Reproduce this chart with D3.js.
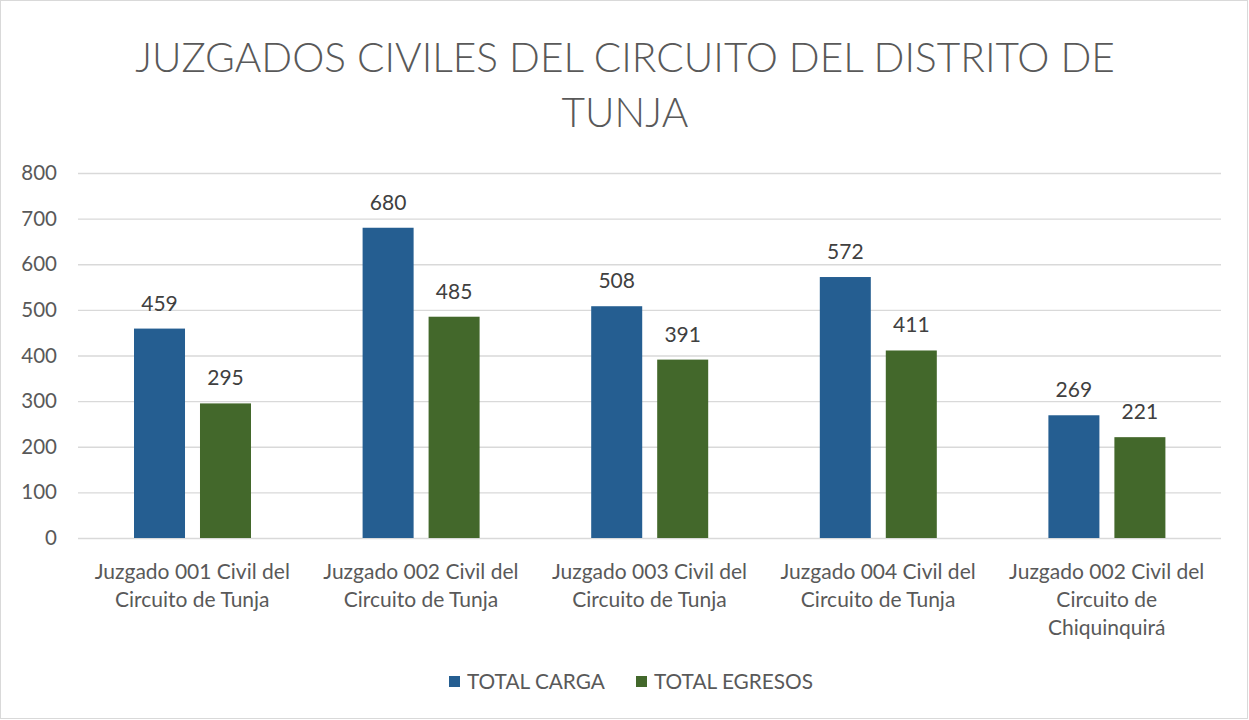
<!DOCTYPE html>
<html><head><meta charset="utf-8">
<script src="https://cdn.jsdelivr.net/npm/d3@7"></script>
<style>body{margin:0;background:#fff}svg{display:block}text{font-family:Lato,"Open Sans",sans-serif}</style>
</head><body>
<svg id="c" width="1249" height="720"></svg>
<script>
const categories = [
  ["Juzgado 001 Civil del","Circuito de Tunja"],
  ["Juzgado 002 Civil del","Circuito de Tunja"],
  ["Juzgado 003 Civil del","Circuito de Tunja"],
  ["Juzgado 004 Civil del","Circuito de Tunja"],
  ["Juzgado 002 Civil del","Circuito de","Chiquinquirá"]
];
const seriesNames = ["TOTAL CARGA","TOTAL EGRESOS"];
const totalCarga = [459,680,508,572,269];
const totalEgresos = [295,485,391,411,221];
const yTicks = [0,100,200,300,400,500,600,700,800];
const titleLines = ["JUZGADOS CIVILES DEL CIRCUITO DEL DISTRITO DE","TUNJA"];
const colors = ["#255E91","#43682B"];

const svg = d3.select("#c");
svg.append("rect").attr("x",0.5).attr("y",0.5).attr("width",1247).attr("height",718)
  .attr("fill","#fff").attr("stroke","#D9D9D9");

const L=78,R=1221,T=173,B=538;
const y = d3.scaleLinear().domain([0,800]).range([B,T]);
const idx = categories.map((d,i)=>i);
const x0 = d3.scaleBand().domain(idx).range([L,R]).padding(0);
const x1 = d3.scaleBand().domain([0,1]).range([56,173]).paddingInner(0.227).paddingOuter(0);

// title
const title = svg.append("g");
titleLines.forEach((t,i)=>{
  title.append("text").attr("x",625).attr("y",72+i*55).attr("text-anchor","middle")
    .attr("fill","#595959").attr("font-size",44).style("font-weight",300).text(t);
});
const t1 = title.select("text").node();
const w = t1.getComputedTextLength();
title.selectAll("text").attr("font-size",44*980/w);

// grid
const axisY = d3.axisLeft(y).tickValues(yTicks).tickSize(-(R-L)).tickPadding(21);
const gy = svg.append("g").attr("transform",`translate(${L},0)`).call(axisY);
gy.select(".domain").remove();
gy.selectAll(".tick line").attr("stroke","#D9D9D9").attr("stroke-width",1.3);
gy.selectAll(".tick text").attr("fill","#595959").attr("font-size",20.5).style("font-family","Lato,'Open Sans',sans-serif");

// bars
const data = idx.map(i=>[totalCarga[i],totalEgresos[i]]);
const groups = svg.append("g").selectAll("g").data(data).join("g")
  .attr("transform",(d,i)=>`translate(${x0(i)},0)`);
groups.selectAll("rect").data(d=>d).join("rect")
  .attr("x",(d,j)=>x1(j)).attr("width",x1.bandwidth())
  .attr("y",d=>y(d)).attr("height",d=>B-y(d)).attr("fill",(d,j)=>colors[j]);
groups.selectAll("text.lbl").data(d=>d).join("text").attr("class","lbl")
  .attr("x",(d,j)=>x1(j)+x1.bandwidth()/2).attr("y",d=>y(d)-18)
  .attr("text-anchor","middle").attr("fill","#404040").attr("font-size",21).text(d=>d);

// x labels
const xl = svg.append("g");
categories.forEach((lines,i)=>{
  const tx = xl.append("text").attr("text-anchor","middle").attr("fill","#595959").attr("font-size",21);
  lines.forEach((l,k)=>tx.append("tspan").attr("x",x0(i)+x0.bandwidth()/2).attr("y",579+k*28).text(l));
});

// legend
const legX=[449,636];
const lg = svg.append("g");
seriesNames.forEach((s,i)=>{
  lg.append("rect").attr("x",legX[i]).attr("y",676).attr("width",11).attr("height",11).attr("fill",colors[i]);
  lg.append("text").attr("x",legX[i]+18).attr("y",689).attr("fill","#595959").attr("font-size",20.8).text(s);
});
</script>
</body></html>
